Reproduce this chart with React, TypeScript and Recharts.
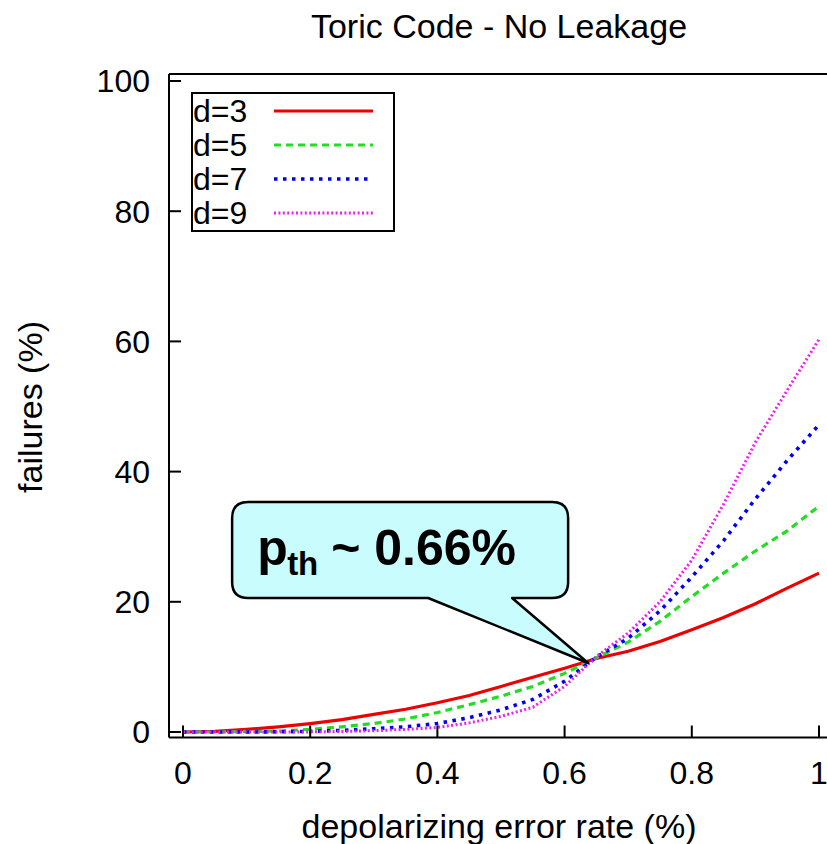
import { LineChart, Line, XAxis, YAxis, Legend, ReferenceDot, Customized } from 'recharts';

// depolarizing error rate (%) and failure rate (%) per code distance
const errorRate = [0, 0.05, 0.1, 0.15, 0.2, 0.25, 0.3, 0.35, 0.4, 0.45, 0.5, 0.55, 0.6, 0.65, 0.7, 0.75, 0.8, 0.85, 0.9, 0.95, 1];
const failD3 = [0, 0.1, 0.4, 0.8, 1.3, 1.9, 2.7, 3.5, 4.5, 5.6, 7.0, 8.4, 9.8, 11.3, 12.4, 13.9, 15.7, 17.6, 19.7, 22.1, 24.4];
const failD5 = [0, 0, 0.05, 0.15, 0.4, 0.8, 1.3, 2.0, 3.0, 4.2, 5.5, 7.0, 9.0, 11.4, 13.8, 17.0, 20.8, 24.4, 27.8, 30.9, 34.7];
const failD7 = [0, 0, 0, 0.03, 0.1, 0.25, 0.5, 0.8, 1.3, 2.2, 3.4, 5.0, 7.8, 11.5, 14.4, 18.6, 23.8, 29.4, 35.8, 41.7, 47.2];
const failD9 = [0, 0, 0, 0, 0.02, 0.08, 0.2, 0.4, 0.7, 1.4, 2.4, 3.8, 7.0, 11.6, 15.2, 20.0, 26.4, 35.0, 44.5, 52.5, 60.3];

const xTicks = [0, 0.2, 0.4, 0.6, 0.8, 1];
const yTicks = [0, 20, 40, 60, 80, 100];

// threshold crossing that the callout points at
const threshold = { x: 0.637, y: 10.6 };

const data = errorRate.map((x, i) => ({
  x,
  d3: failD3[i],
  d5: failD5[i],
  d7: failD7[i],
  d9: failD9[i],
}));

const series = [
  { key: 'd3', name: 'd=3', color: '#ee0000', dash: undefined, width: 3.2 },
  { key: 'd5', name: 'd=5', color: '#22dd22', dash: '7 5', width: 3.2 },
  { key: 'd7', name: 'd=7', color: '#0000ee', dash: '3.5 5.5', width: 3.6 },
  { key: 'd9', name: 'd=9', color: '#ee22ee', dash: '2 2.4', width: 3 },
];

const FONT = '"Liberation Sans", Arial, Helvetica, sans-serif';

function LegendBox() {
  return (
    <div
      style={{
        border: '2px solid #000',
        width: 200,
        height: 136,
        background: '#fff',
        fontFamily: FONT,
        fontSize: 32,
        color: '#000',
      }}
    >
      {series.map((s) => (
        <div key={s.key} style={{ height: 34, display: 'flex', alignItems: 'center' }}>
          <span style={{ width: 81, lineHeight: '34px' }}>{s.name}</span>
          <svg width={100} height={10}>
            <line
              x1={0}
              x2={99}
              y1={5}
              y2={5}
              stroke={s.color}
              strokeWidth={s.width}
              strokeDasharray={s.dash}
            />
          </svg>
        </div>
      ))}
    </div>
  );
}

function Callout({ cx, cy }: { cx?: number; cy?: number }) {
  if (cx == null || cy == null) return null;
  const L = cx - 356;
  const T = cy - 161;
  const R = cx - 20;
  const B = cy - 65;
  const r = 16;
  const d = `M${L + r},${T} H${R - r} Q${R},${T} ${R},${T + r} V${B - r} Q${R},${B} ${R - r},${B} H${cx - 76} L${cx},${cy} L${cx - 160},${B} H${L + r} Q${L},${B} ${L},${B - r} V${T + r} Q${L},${T} ${L + r},${T} Z`;
  return (
    <g>
      <path d={d} fill="#c8fcfd" stroke="#000" strokeWidth={2.5} strokeLinejoin="round" />
      <text fontFamily={FONT} fontWeight="bold" fill="#000">
        <tspan x={cx - 331} y={cy - 98} fontSize={50}>p</tspan>
        <tspan x={cx - 301} y={cy - 88} fontSize={33}>th</tspan>
        <tspan x={cx - 257} y={cy - 98} fontSize={50}>~ 0.66%</tspan>
      </text>
    </g>
  );
}

function Titles() {
  return (
    <g fontFamily={FONT} fill="#000" fontSize={34}>
      <text x={499} y={38} textAnchor="middle">Toric Code - No Leakage</text>
      <text x={499} y={838} textAnchor="middle">depolarizing error rate (%)</text>
      <text x={42} y={407} textAnchor="middle" transform="rotate(-90 42 407)">failures (%)</text>
    </g>
  );
}

const tickStyle = { fontFamily: FONT, fontSize: 32, fill: '#000' };
const lineStyle = { stroke: '#000', strokeWidth: 2 };

export default function App() {
  return (
    <div style={{ position: 'absolute', left: 0, top: 0, width: 827, height: 844, overflow: 'hidden', background: '#fff' }}>
      <LineChart
        width={840}
        height={844}
        data={data}
        margin={{ top: 73, right: 9, bottom: 46.5, left: 109 }}
      >
        <XAxis
          dataKey="x"
          type="number"
          domain={[-0.022, 1.0173]}
          allowDataOverflow
          ticks={xTicks}
          tickFormatter={(v: number) => String(v)}
          height={60}
          tickSize={-12}
          tickMargin={36}
          tick={tickStyle}
          axisLine={lineStyle}
          tickLine={lineStyle}
        />
        <XAxis
          xAxisId="top"
          orientation="top"
          type="number"
          domain={[-0.022, 1.0173]}
          allowDataOverflow
          ticks={xTicks}
          height={1}
          tickSize={-12}
          tick={false}
          axisLine={lineStyle}
          tickLine={lineStyle}
        />
        <YAxis
          type="number"
          domain={[-0.845, 101.075]}
          allowDataOverflow
          ticks={yTicks}
          width={60}
          tickSize={-12}
          tickMargin={31}
          tick={tickStyle}
          axisLine={lineStyle}
          tickLine={lineStyle}
        />
        <YAxis
          yAxisId="right"
          orientation="right"
          type="number"
          domain={[-0.845, 101.075]}
          allowDataOverflow
          ticks={yTicks}
          width={1}
          tickSize={-12}
          tick={false}
          axisLine={lineStyle}
          tickLine={lineStyle}
        />
        {series.map((s) => (
          <Line
            key={s.key}
            type="linear"
            dataKey={s.key}
            name={s.name}
            stroke={s.color}
            strokeWidth={s.width}
            strokeDasharray={s.dash}
            dot={false}
            activeDot={false}
            isAnimationActive={false}
          />
        ))}
        <Legend
          layout="vertical"
          align="center"
          verticalAlign="middle"
          content={() => <LegendBox />}
          wrapperStyle={{ left: 191, top: 92, width: 204, height: 140 }}
        />
        <ReferenceDot
          x={threshold.x}
          y={threshold.y}
          r={0}
          ifOverflow="visible"
          shape={(p: any) => <Callout cx={p.cx} cy={p.cy} />}
        />
        <Customized component={Titles} />
      </LineChart>
    </div>
  );
}
